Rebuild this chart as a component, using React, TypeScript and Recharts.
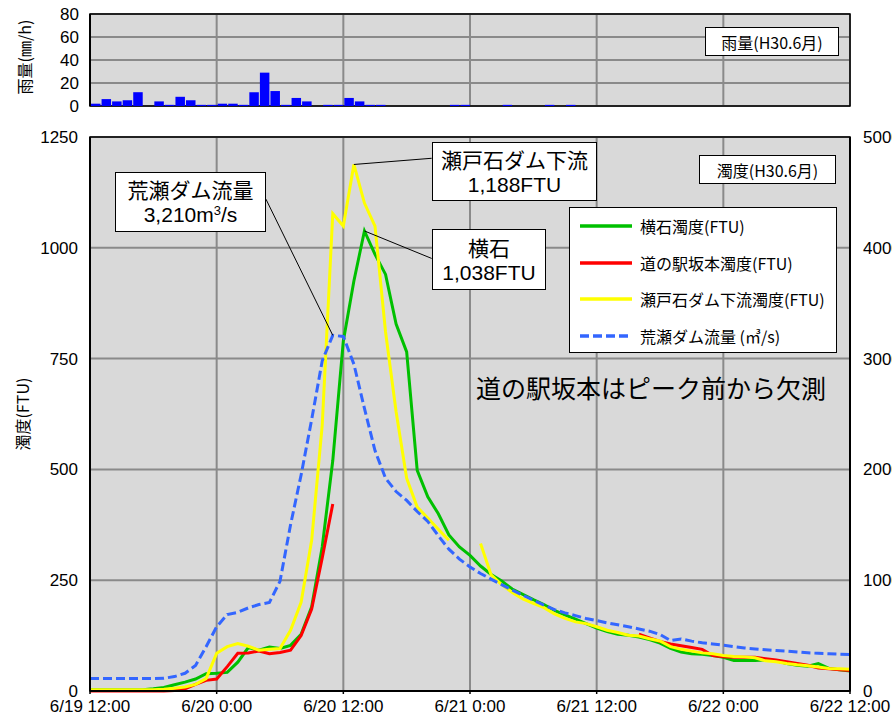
import React from 'react';
import {
  ComposedChart,
  BarChart,
  Bar,
  Line,
  XAxis,
  YAxis,
  CartesianGrid,
  ReferenceLine,
  ReferenceArea,
  Legend,
} from 'recharts';

// Hours elapsed since 6/19 12:00 (H30 = 2018), hourly records
const HOURS: number[] = Array.from({ length: 73 }, (_, i) => i);

const TIME_TICKS = [0, 12, 24, 36, 48, 60, 72];
const TIME_LABELS = ['6/19 12:00', '6/20 0:00', '6/20 12:00', '6/21 0:00', '6/21 12:00', '6/22 0:00', '6/22 12:00'];

const TURBIDITY_TICKS = [0, 250, 500, 750, 1000, 1250];
const TURBIDITY_MINOR = [50, 100, 150, 200, 300, 350, 400, 450, 550, 600, 650, 700, 800, 850, 900, 950, 1050, 1100, 1150, 1200];
const FLOW_TICKS = [0, 1000, 2000, 3000, 4000, 5000];
const RAIN_TICKS = [0, 20, 40, 60, 80];
const RAIN_MINOR = [10, 30, 50, 70];

// hourly rainfall (mm/h), one value per hour from 6/19 12:00
const rainfall = [
  2, 6, 4, 5, 12, 0, 4, 1, 8, 5, 1, 1, 2, 2, 1, 12, 29, 13, 1, 7, 4, 0, 1, 1,
  7, 4, 1, 1, 0, 0, 0, 0, 0, 0, 1, 1, 0, 0, 0, 1, 0, 0, 0, 1, 0, 1, 0, 0,
  0, 0, 0, 0, 0, 0, 0, 0, 0, 0, 0, 0, 0, 0, 0, 0, 0, 0, 0, 0, 0, 0, 0, 0,
];

// 横石 turbidity (FTU)
const yokoishi = [
  3, 3, 3, 3, 3, 3, 5, 8, 14, 20, 27, 39, 40, 42, 65, 98, 92, 99, 96, 103, 128, 190, 325, 520,
  790, 925, 1038, 985, 940, 828, 765, 498, 438, 400, 352, 325, 306, 282, 263, 248, 230, 218, 206, 195,
  182, 172, 162, 152, 142, 134, 128, 126, 122, 116, 108, 96, 88, 84, 83, 80, 76, 69, 69, 69, 70, 68,
  62, 58, 56, 62, 51, 48, 45,
];

// 道の駅坂本 turbidity (FTU), missing from the peak until 6/21 16:00
const michinoeki: (number | null)[] = [
  0, 0, 0, 0, 0, 0, 0, 0, 1, 5, 15, 24, 27, 55, 85, 86, 90, 84, 87, 92, 125, 185, 300, 422,
  null, null, null, null, null, null, null, null, null, null, null, null, null, null, null, null,
  null, null, null, null, null, null, null, null, null, null, null, null,
  128, 120, 112, 106, 102, 98, 94, 80, 77, 76, 76, 76, 73, 70, 66, 62, 58, 52, 50, 48, 46,
];

// 瀬戸石ダム下流 turbidity (FTU)
const setoishi: (number | null)[] = [
  3, 3, 3, 3, 3, 3, 3, 4, 6, 9, 15, 28, 85, 100, 107, 101, 92, 94, 96, 137, 200, 340, 600, 1077,
  1049, 1188, 1101, 1049, 810, 630, 480, 415, 390, 365, 340, null, null, 333, 262, 240, 222, 208,
  198, 188, 174, 164, 156, 152, 145, 137, 132, 126, 124, 118, 113, 100, 94, 90, 86, 84, 80, 78,
  77, 75, 68, 66, 62, 59, 57, 54, 51, 50, 49,
];

// 荒瀬ダム flow (m3/s)
const arase = [
  112, 112, 112, 112, 112, 112, 112, 115, 130, 160, 230, 400, 580, 690, 710, 750, 780, 800, 990, 1500,
  1950, 2450, 2980, 3210, 3200, 2950, 2550, 2170, 1920, 1800, 1720, 1620, 1530, 1400, 1280, 1190,
  1120, 1060, 1010, 960, 910, 865, 820, 775, 735, 705, 680, 655, 635, 615, 598, 580, 560, 540, 510,
  455, 470, 450, 435, 425, 413, 400, 388, 380, 372, 365, 360, 352, 345, 340, 336, 333, 330,
];

const SERIES = [
  { key: 'yokoishi', name: '横石濁度(FTU)', color: '#00c000', dash: undefined as string | undefined, axis: 'left' },
  { key: 'michinoeki', name: '道の駅坂本濁度(FTU)', color: '#ff0000', dash: undefined, axis: 'left' },
  { key: 'setoishi', name: '瀬戸石ダム下流濁度(FTU)', color: '#ffff00', dash: undefined, axis: 'left' },
  { key: 'arase', name: '荒瀬ダム流量 (㎥/s)', color: '#3366ff', dash: '9 4', axis: 'right' },
];

const JP_FONT = '"Noto Sans CJK JP", "Noto Sans", sans-serif';
const NUM_FONT = '"Liberation Sans Narrow", "Liberation Sans", Arial, sans-serif';
const LATIN_FONT = '"Liberation Sans", Arial, sans-serif';

const PLOT_BG = '#d9d9d9';
const GRID = '#8a8a8a';

const tickStyle = { fill: '#000', fontSize: 17, fontFamily: NUM_FONT };

const LegendBox = () => (
  <div
    style={{
      width: 268,
      height: 146,
      boxSizing: 'border-box',
      background: '#fff',
      border: '1.5px solid #000',
      paddingLeft: 10,
    }}
  >
    {SERIES.map((s) => (
      <div key={s.key} style={{ display: 'flex', alignItems: 'center', height: 36.5 }}>
        <svg width={52} height={6} style={{ display: 'block' }}>
          <line x1={0} y1={3} x2={52} y2={3} stroke={s.color} strokeWidth={3.5} strokeDasharray={s.dash} />
        </svg>
        <span style={{ marginLeft: 8, fontSize: 16, fontFamily: JP_FONT, color: '#000', whiteSpace: 'nowrap' }}>
          {s.name}
        </span>
      </div>
    ))}
  </div>
);

type CalloutProps = {
  left: number;
  top: number;
  width: number;
  height: number;
  title: string;
  value: React.ReactNode;
};

const Callout = ({ left, top, width, height, title, value }: CalloutProps) => (
  <div
    style={{
      position: 'absolute',
      left,
      top,
      width,
      height,
      boxSizing: 'border-box',
      background: '#fff',
      border: '1.5px solid #000',
      display: 'flex',
      flexDirection: 'column',
      justifyContent: 'center',
      alignItems: 'center',
      color: '#000',
    }}
  >
    <div style={{ fontFamily: JP_FONT, fontSize: 21, lineHeight: '25px', whiteSpace: 'nowrap' }}>{title}</div>
    <div style={{ fontFamily: LATIN_FONT, fontSize: 21, lineHeight: '25px', whiteSpace: 'nowrap' }}>{value}</div>
  </div>
);

const TitleBox = ({ left, top, width, text }: { left: number; top: number; width: number; text: string }) => (
  <div
    style={{
      position: 'absolute',
      left,
      top,
      width,
      height: 29,
      boxSizing: 'border-box',
      background: '#fff',
      border: '1.5px solid #000',
      display: 'flex',
      alignItems: 'center',
      justifyContent: 'center',
      fontFamily: JP_FONT,
      fontSize: 16,
      color: '#000',
      whiteSpace: 'nowrap',
    }}
  >
    {text}
  </div>
);

const VerticalTitle = ({ cx, cy, text }: { cx: number; cy: number; text: string }) => (
  <div
    style={{
      position: 'absolute',
      left: cx,
      top: cy,
      transform: 'translate(-50%, -50%) rotate(-90deg)',
      fontFamily: JP_FONT,
      fontSize: 16,
      color: '#000',
      whiteSpace: 'nowrap',
      lineHeight: '18px',
    }}
  >
    {text}
  </div>
);

export default function App() {
  const turbidityData = HOURS.map((h, i) => ({
    h,
    yokoishi: yokoishi[i],
    michinoeki: michinoeki[i],
    setoishi: setoishi[i],
    arase: arase[i],
  }));
  const rainData = rainfall.map((r, i) => ({ h: HOURS[i] + 0.5, rain: r }));

  return (
    <div style={{ position: 'absolute', left: 0, top: 0, width: 892, height: 718, background: '#fff', overflow: 'hidden' }}>
      {/* hourly rainfall panel */}
      <div style={{ position: 'absolute', left: 0, top: 0 }}>
        <BarChart
          width={892}
          height={120}
          data={rainData}
          margin={{ top: 14, right: 42, bottom: 14, left: 0 }}
          barCategoryGap={0}
          barGap={0}
        >
          <CartesianGrid stroke={GRID} strokeWidth={2} fill={PLOT_BG} fillOpacity={1} />
          <XAxis dataKey="h" type="number" domain={[0, 72]} ticks={TIME_TICKS} hide />
          <YAxis
            domain={[0, 80]}
            ticks={RAIN_TICKS}
            width={90}
            tick={tickStyle}
            tickLine={false}
            tickSize={6}
            tickMargin={5}
            axisLine={{ stroke: '#000', strokeWidth: 2 }}
            interval={0}
          />
          <YAxis
            yAxisId="minor"
            orientation="left"
            mirror
            width={1}
            domain={[0, 80]}
            ticks={RAIN_MINOR}
            tick={false}
            axisLine={false}
            tickLine={{ stroke: '#000', strokeWidth: 1 }}
            tickSize={5}
          />
          <Bar dataKey="rain" fill="#0000ff" barSize={10.6} isAnimationActive={false} />
          <ReferenceArea x1={0} x2={72} y1={0} y2={80} fill="none" stroke="#000" strokeWidth={1.5} />
        </BarChart>
      </div>

      {/* turbidity and dam outflow panel */}
      <div style={{ position: 'absolute', left: 0, top: 120 }}>
        <ComposedChart width={892} height={598} data={turbidityData} margin={{ top: 17, right: 0, bottom: 0, left: 0 }}>
          <CartesianGrid xAxisId="x" yAxisId="left" stroke={GRID} strokeWidth={2} fill={PLOT_BG} fillOpacity={1} />
          <XAxis
            xAxisId="x"
            dataKey="h"
            type="number"
            domain={[0, 72]}
            ticks={TIME_TICKS}
            interval={0}
            height={27}
            tickFormatter={(v: number) => TIME_LABELS[TIME_TICKS.indexOf(v)]}
            tick={tickStyle}
            tickSize={3}
            tickMargin={6}
            tickLine={{ stroke: '#000', strokeWidth: 1.5 }}
            axisLine={{ stroke: '#000', strokeWidth: 2 }}
          />
          <YAxis
            yAxisId="left"
            domain={[0, 1250]}
            ticks={TURBIDITY_TICKS}
            interval={0}
            width={90}
            tick={tickStyle}
            tickLine={false}
            tickSize={6}
            tickMargin={6}
            axisLine={{ stroke: '#000', strokeWidth: 2 }}
          />
          <YAxis
            yAxisId="right"
            orientation="right"
            domain={[0, 5000]}
            ticks={FLOW_TICKS}
            interval={0}
            width={42}
            tick={tickStyle}
            tickLine={false}
            tickSize={6}
            tickMargin={7}
            axisLine={{ stroke: '#000', strokeWidth: 2 }}
          />
          <YAxis
            yAxisId="minorL"
            orientation="left"
            mirror
            width={1}
            domain={[0, 1250]}
            ticks={TURBIDITY_MINOR}
            tick={false}
            axisLine={false}
            tickLine={{ stroke: '#000', strokeWidth: 1 }}
            tickSize={5}
          />
          <YAxis
            yAxisId="minorR"
            orientation="right"
            mirror
            width={1}
            domain={[0, 1250]}
            ticks={TURBIDITY_MINOR}
            tick={false}
            axisLine={false}
            tickLine={{ stroke: '#000', strokeWidth: 1 }}
            tickSize={5}
          />
          <ReferenceArea xAxisId="x" yAxisId="left" x1={0} x2={72} y1={0} y2={1250} fill="none" stroke="#000" strokeWidth={1.5} />

          {SERIES.map((s) => (
            <Line
              key={s.key}
              xAxisId="x"
              yAxisId={s.axis}
              type="linear"
              dataKey={s.key}
              name={s.name}
              stroke={s.color}
              strokeWidth={3}
              strokeDasharray={s.dash}
              dot={false}
              activeDot={false}
              connectNulls={false}
              isAnimationActive={false}
            />
          ))}

          {/* leader lines from each peak to its callout */}
          <ReferenceLine
            xAxisId="x"
            yAxisId="left"
            segment={[{ x: 25, y: 1188 }, { x: 32.37, y: 1202 }]}
            stroke="#000"
            strokeWidth={1}
          />
          <ReferenceLine
            xAxisId="x"
            yAxisId="left"
            segment={[{ x: 26, y: 1038 }, { x: 32.37, y: 976 }]}
            stroke="#000"
            strokeWidth={1}
          />
          <ReferenceLine
            xAxisId="x"
            yAxisId="right"
            segment={[{ x: 23, y: 3210 }, { x: 16.67, y: 4439 }]}
            stroke="#000"
            strokeWidth={1}
          />

          <Legend
            layout="vertical"
            align="center"
            verticalAlign="middle"
            wrapperStyle={{ left: 569, top: 87, width: 268, height: 146 }}
            content={() => <LegendBox />}
          />
        </ComposedChart>
      </div>

      <VerticalTitle cx={24} cy={57} text="雨量(㎜/h)" />
      <VerticalTitle cx={22} cy={414} text="濁度(FTU)" />

      <TitleBox left={705} top={27} width={134} text="雨量(H30.6月)" />
      <TitleBox left={699} top={155} width={137} text="濁度(H30.6月)" />

      <Callout left={432} top={142} width={165} height={59} title="瀬戸石ダム下流" value="1,188FTU" />
      <Callout left={432} top={229} width={114} height={61} title="横石" value="1,038FTU" />
      <Callout
        left={115}
        top={172}
        width={151}
        height={60}
        title="荒瀬ダム流量"
        value={
          <span>
            3,210m<sup style={{ fontSize: 13, verticalAlign: 'top', lineHeight: '18px' }}>3</sup>/s
          </span>
        }
      />

      <div
        style={{
          position: 'absolute',
          left: 476,
          top: 372,
          fontFamily: JP_FONT,
          fontSize: 25,
          lineHeight: '30px',
          color: '#000',
          whiteSpace: 'nowrap',
        }}
      >
        道の駅坂本はピーク前から欠測
      </div>
    </div>
  );
}
